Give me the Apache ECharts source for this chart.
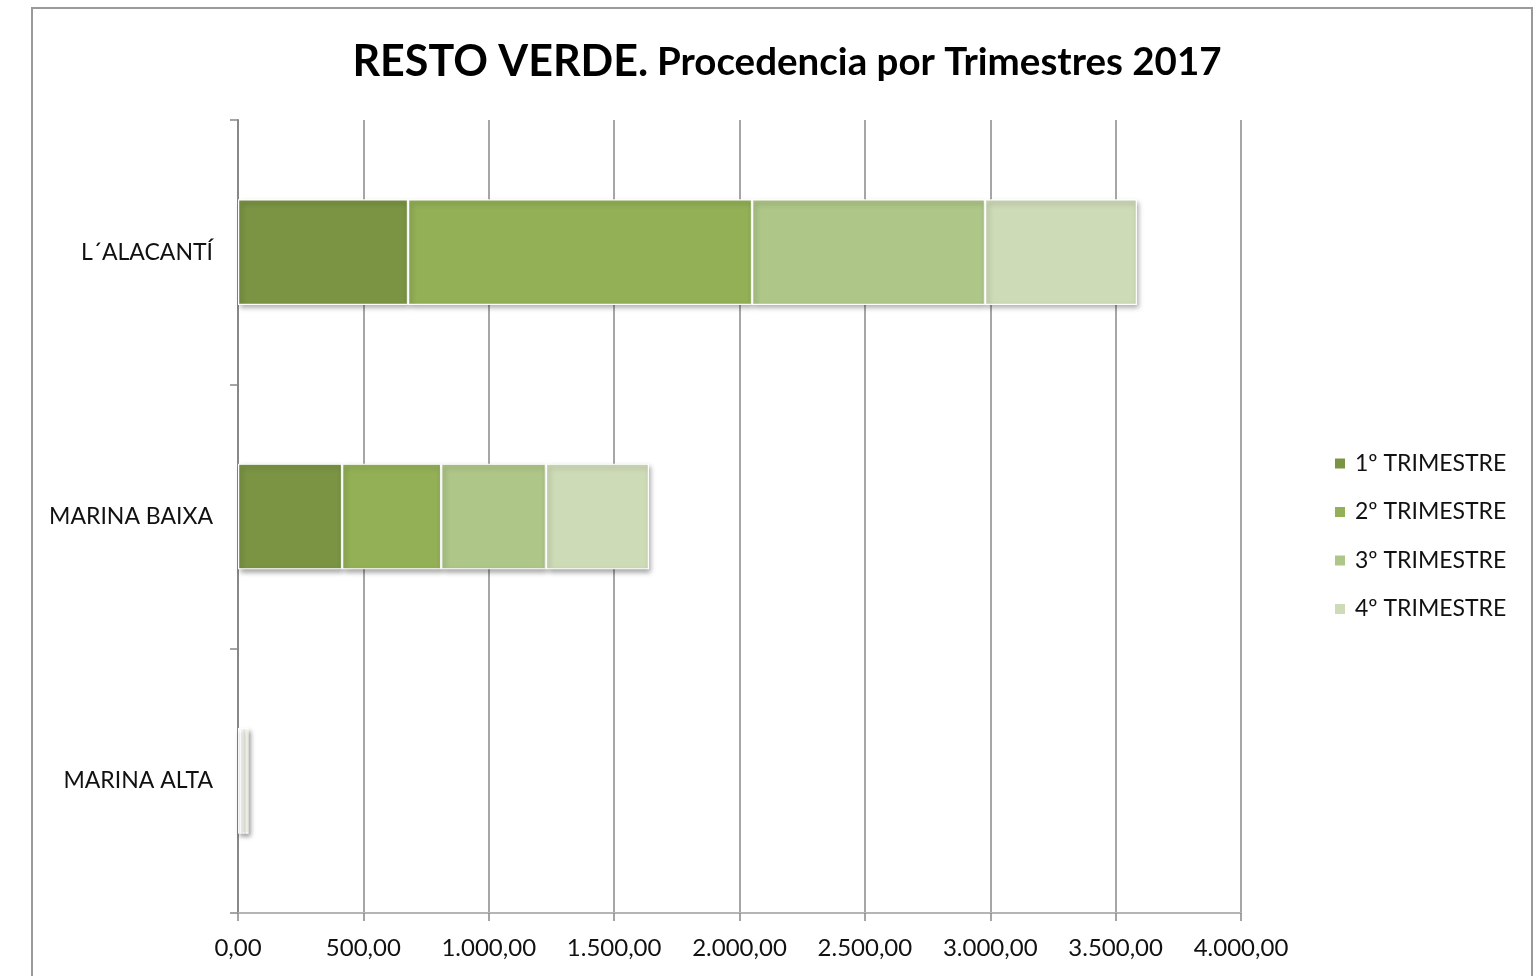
<!DOCTYPE html>
<html style="height: 100%">
<head>
<meta charset="utf-8">
<title>Resto verde</title>
<script src="https://cdn.jsdelivr.net/npm/echarts@6/dist/echarts.min.js"></script>
</head>
<body style="height: 100%; margin: 0; background: #fff">
<div id="container" style="width: 1539px; height: 976px"></div>
<script type="text/javascript">
// comarcas, de abajo arriba como en el eje
var comarcas = ['MARINA ALTA', 'MARINA BAIXA', 'L\u00B4ALACANT\u00CD'];
var trimestres = ['1\u00BA TRIMESTRE', '2\u00BA TRIMESTRE', '3\u00BA TRIMESTRE', '4\u00BA TRIMESTRE'];
var t1 = [8, 415, 678];
var t2 = [10, 395, 1372];
var t3 = [12, 418, 929];
var t4 = [12, 411, 606];
var colores = ['#7a9444', '#93b056', '#aec688', '#cedbb7'];

var myChart = echarts.init(document.getElementById('container'));

function formatoES(v) {
    var partes = v.toFixed(2).split('.');
    var ent = partes[0].replace(/\B(?=(\d{3})+(?!\d))/g, '.');
    return ent + ',' + partes[1];
}

var datos = [t1, t2, t3, t4];
var series = [];
for (var i = 0; i < datos.length; i++) {
    series.push({
        name: trimestres[i],
        type: 'bar',
        stack: 'total',
        barWidth: '40%',
        data: datos[i],
        itemStyle: {
            color: colores[i],
            borderColor: '#fff',
            borderWidth: 1.2,
            shadowColor: 'rgba(0,0,0,0.35)',
            shadowBlur: 5,
            shadowOffsetX: 2,
            shadowOffsetY: 3
        }
    });
}

var option = {
    animation: false,
    textStyle: { fontFamily: 'Lato' },
    title: {
        text: '{a|RESTO VERDE.}  {b|Procedencia por Trimestres 2017}',
        left: 782,
        top: 36,
        textAlign: 'center',
        textStyle: {
            rich: {
                a: { fontFamily: 'Lato', fontWeight: 'bold', fontSize: 43, color: '#000' },
                b: { fontFamily: 'Lato', fontWeight: 'bold', fontSize: 38.5, color: '#000' }
            }
        }
    },
    graphic: [{
        type: 'rect',
        shape: { x: 32, y: 8, width: 1500, height: 1000 },
        style: { fill: 'none', stroke: '#9a9a9a', lineWidth: 2 },
        silent: true
    }],
    legend: {
        orient: 'vertical',
        left: 1333,
        top: 452,
        padding: 0,
        itemWidth: 12,
        itemHeight: 12,
        itemGap: 25.5,
        icon: 'rect',
        data: trimestres,
        textStyle: { fontSize: 23, color: '#111', fontFamily: 'Lato', padding: [0, 0, 0, 4] }
    },
    grid: {
        left: 238,
        right: 298,
        top: 120,
        bottom: 63
    },
    xAxis: {
        type: 'value',
        min: 0,
        max: 4000,
        interval: 500,
        axisLine: { show: true, lineStyle: { color: '#b5b5b5', width: 2 } },
        axisTick: { show: true, length: 8, lineStyle: { color: '#888', width: 1.5 } },
        splitLine: { show: true, lineStyle: { color: '#888', width: 1.5 } },
        axisLabel: {
            margin: 23,
            fontSize: 24,
            color: '#111',
            fontFamily: 'Lato',
            formatter: formatoES
        }
    },
    yAxis: {
        type: 'category',
        data: comarcas,
        axisLine: { show: true, lineStyle: { color: '#888', width: 2 } },
        axisTick: { show: true, length: 8, lineStyle: { color: '#888', width: 1.5 } },
        axisLabel: {
            margin: 25,
            fontSize: 23,
            color: '#111',
            fontFamily: 'Lato'
        }
    },
    series: series
};

myChart.setOption(option);
</script>
</body>
</html>
